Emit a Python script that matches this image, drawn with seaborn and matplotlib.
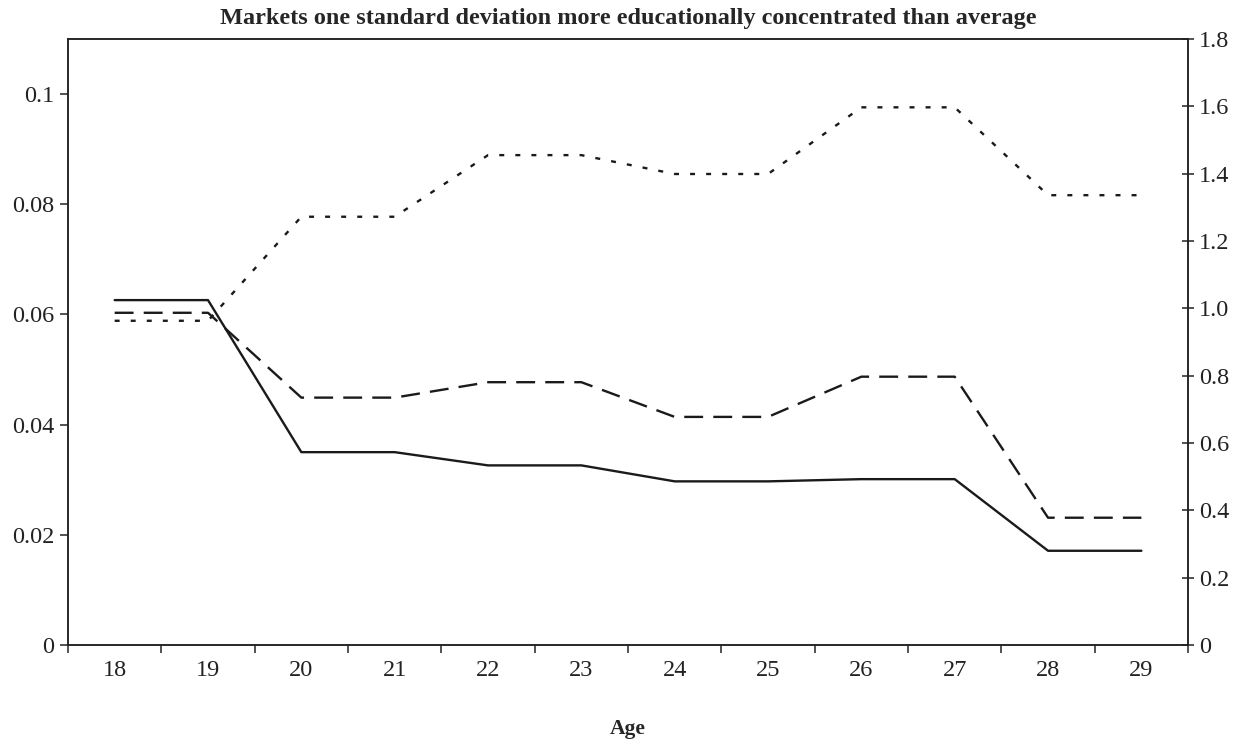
import pandas as pd
import matplotlib
matplotlib.use("Agg")
import matplotlib.pyplot as plt
import seaborn as sns
from matplotlib.ticker import FuncFormatter, MultipleLocator

# data
ages = [18, 19, 20, 21, 22, 23, 24, 25, 26, 27, 28, 29]
solid_left = [0.0626, 0.0626, 0.0350, 0.0350, 0.0326, 0.0326, 0.0297, 0.0297, 0.0301, 0.0301, 0.0171, 0.0171]
dashed_left = [0.0603, 0.0603, 0.0449, 0.0449, 0.0477, 0.0477, 0.0414, 0.0414, 0.0487, 0.0487, 0.0231, 0.0231]
dotted_right = [0.963, 0.963, 1.272, 1.272, 1.455, 1.455, 1.399, 1.399, 1.597, 1.597, 1.336, 1.336]

df = pd.DataFrame({"age": ages, "solid": solid_left, "dashed": dashed_left, "dotted": dotted_right})

sns.set_style("white")
plt.rcParams['font.family'] = ['Liberation Serif', 'DejaVu Serif']

fig = plt.figure(figsize=(12.43, 7.44), dpi=100)
ax = fig.add_axes([0.0547, 0.1331, 0.9011, 0.8145])
ax2 = ax.twinx()

line_col = "#1a1a1a"
lw = 1.7
sns.lineplot(data=df, x="age", y="solid", ax=ax, color=line_col, linewidth=lw)
sns.lineplot(data=df, x="age", y="dashed", ax=ax, color=line_col, linewidth=lw)
ax.lines[-1].set_dashes((8, 4.3))
sns.lineplot(data=df, x="age", y="dotted", ax=ax2, color=line_col, linewidth=lw)
ax2.lines[-1].set_dashes((2.1, 4.7))

# axes limits and ticks
ax.set_xlim(17.5, 29.5)
ax.set_ylim(0, 0.11)
ax2.set_ylim(0, 1.8)
ax.xaxis.set_minor_locator(MultipleLocator(1, offset=0.5))
ax.set_xticks(ages)
ax.set_xticklabels([str(a) for a in ages])
ax.set_yticks([0, 0.02, 0.04, 0.06, 0.08, 0.1])
ax2.set_yticks([0, 0.2, 0.4, 0.6, 0.8, 1.0, 1.2, 1.4, 1.6, 1.8])
ax.yaxis.set_major_formatter(FuncFormatter(lambda v, p: f"{v:g}"))
ax2.yaxis.set_major_formatter(FuncFormatter(lambda v, p: "0" if v == 0 else f"{v:.1f}"))

ax.tick_params(axis="x", which="major", length=0, labelsize=17.5, pad=11, colors="#222222")
ax.tick_params(axis="x", which="minor", length=6, width=1.1, direction="out", bottom=True, color="#222222")
ax.tick_params(axis="y", length=6, width=1.1, direction="out", labelsize=17.5, pad=4, colors="#222222", left=True)
ax2.tick_params(axis="y", length=8, width=1.1, direction="inout", labelsize=17.5, pad=4, colors="#222222", right=True)

for a in (ax, ax2):
    for s in a.spines.values():
        s.set_linewidth(1.1)
        s.set_color("#222222")

ax.set_ylabel("")
ax2.set_ylabel("")
ax.set_xlabel("Age", fontsize=15.5, fontweight="bold", labelpad=27)
ax.set_title("Markets one standard deviation more educationally concentrated than average",
             fontsize=17.5, fontweight="bold", pad=11)

plt.savefig("out.png", dpi=100)
plt.close()
